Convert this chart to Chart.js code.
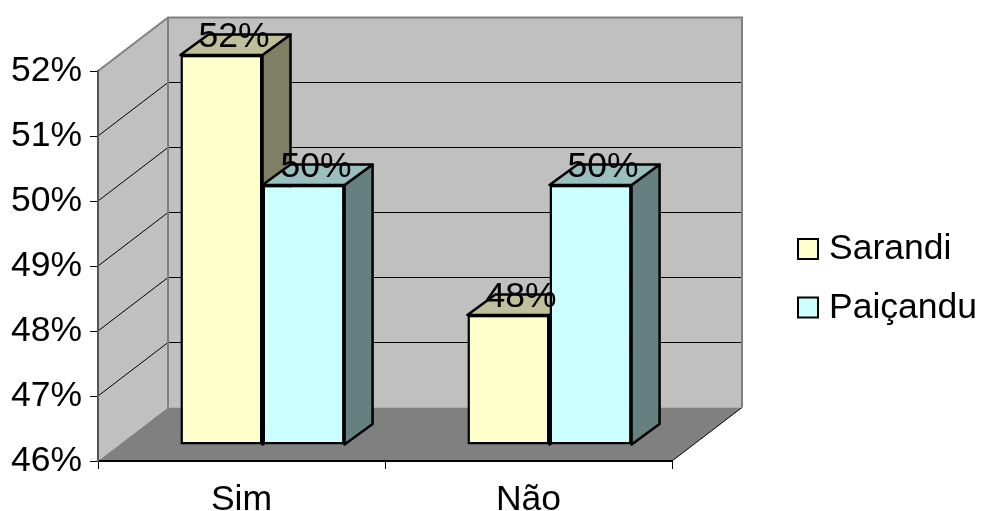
<!DOCTYPE html>
<html>
<head>
<meta charset="utf-8">
<title>Sim / Não</title>
<script src="https://cdn.jsdelivr.net/npm/chart.js@4"></script>
<style>
    body { margin: 0; background: #fff; }
    canvas { display: block; }
</style>
</head>
<body>
<canvas id="chart" width="983" height="511"></canvas>
<script>
const categories = ['Sim', 'Não'];
const sarandi = [52, 48];
const paicandu = [50, 50];
const percentTicks = ['46%', '47%', '48%', '49%', '50%', '51%', '52%'];
const seriesNames = ['Sarandi', 'Paiçandu'];

const FONT = '"Liberation Sans", Arial, sans-serif';
const FONT_SIZE = 35.5;

// 3d look: how far the walls and the bars are pushed back
const wallDepth = { x: 70, y: -53.5 };
const barShift = { x: 21, y: -16 };
const barDepth = { x: 28, y: -20.5 };

const faceColors = [
    { front: '#ffffcc', top: '#bfbf99', side: '#7f7f66' },
    { front: '#ccffff', top: '#99bfbf', side: '#668080' }
];

function poly(ctx, pts) {
    ctx.beginPath();
    pts.forEach((p, i) => i ? ctx.lineTo(p[0], p[1]) : ctx.moveTo(p[0], p[1]));
    ctx.closePath();
}

// side wall, back wall, floor and their grid lines
const walls = {
    id: 'walls',
    beforeDraw(chart) {
        const { ctx, chartArea: a, scales } = chart;
        const dx = wallDepth.x, dy = wallDepth.y;

        ctx.save();
        ctx.fillStyle = '#c0c0c0';
        ctx.fillRect(a.left + dx, a.top + dy, a.right - a.left, a.bottom - a.top);
        poly(ctx, [[a.left, a.top], [a.left + dx, a.top + dy], [a.left + dx, a.bottom + dy], [a.left, a.bottom]]);
        ctx.fill();

        ctx.fillStyle = '#808080';
        poly(ctx, [[a.left, a.bottom], [a.right, a.bottom], [a.right + dx, a.bottom + dy], [a.left + dx, a.bottom + dy]]);
        ctx.fill();

        ctx.strokeStyle = '#000';
        ctx.lineWidth = 1;
        scales.y.ticks.forEach(t => {
            const y = scales.y.getPixelForValue(t.value);
            if (y <= a.top || y >= a.bottom) return;
            ctx.beginPath();
            ctx.moveTo(a.left, y);
            ctx.lineTo(a.left + dx, y + dy);
            ctx.lineTo(a.right + dx, y + dy);
            ctx.stroke();
        });

        ctx.beginPath();
        ctx.moveTo(a.right, a.bottom);
        ctx.lineTo(a.right + dx, a.bottom + dy);
        ctx.stroke();

        ctx.strokeStyle = '#808080';
        ctx.lineWidth = 2;
        ctx.beginPath();
        ctx.moveTo(a.left, a.top);
        ctx.lineTo(a.left + dx, a.top + dy);
        ctx.lineTo(a.right + dx, a.top + dy);
        ctx.lineTo(a.right + dx, a.bottom + dy);
        ctx.moveTo(a.left + dx, a.top + dy);
        ctx.lineTo(a.left + dx, a.bottom + dy);
        ctx.stroke();
        ctx.restore();
    }
};

// top and side faces go first, then the front rects are drawn by chart.js in the shifted ctx
const bars3d = {
    id: 'bars3d',
    beforeDatasetsDraw(chart) {
        const ctx = chart.ctx;
        ctx.save();
        ctx.strokeStyle = '#000';
        ctx.lineWidth = 2.5;
        ctx.lineJoin = 'round';
        chart.data.datasets.forEach((ds, d) => {
            chart.getDatasetMeta(d).data.forEach(bar => {
                const x1 = bar.x + bar.width / 2 + barShift.x;
                const x0 = bar.x - bar.width / 2 + barShift.x;
                const y = bar.y + barShift.y;
                const b = bar.base + barShift.y;

                poly(ctx, [[x1, y], [x1 + barDepth.x, y + barDepth.y], [x1 + barDepth.x, b + barDepth.y], [x1, b]]);
                ctx.fillStyle = faceColors[d].side;
                ctx.fill();
                ctx.stroke();

                poly(ctx, [[x0, y], [x1, y], [x1 + barDepth.x, y + barDepth.y], [x0 + barDepth.x, y + barDepth.y]]);
                ctx.fillStyle = faceColors[d].top;
                ctx.fill();
                ctx.stroke();
            });
        });
        ctx.restore();

        ctx.save();
        ctx.translate(barShift.x, barShift.y);
    },
    afterDatasetsDraw(chart) {
        const ctx = chart.ctx;
        ctx.restore();

        // value labels sit over the top face
        ctx.save();
        ctx.font = FONT_SIZE + 'px ' + FONT;
        ctx.fillStyle = '#000';
        ctx.textAlign = 'center';
        ctx.textBaseline = 'alphabetic';
        chart.data.datasets.forEach((ds, d) => {
            chart.getDatasetMeta(d).data.forEach((bar, i) => {
                ctx.fillText(ds.data[i] + '%', bar.x + barShift.x + 12.5, bar.y + barShift.y - 8);
            });
        });
        ctx.restore();
    }
};

// legend on the right, keys sit closer to the text than the built-in one allows
const sideLegend = {
    id: 'sideLegend',
    afterDraw(chart) {
        const ctx = chart.ctx;
        ctx.save();
        ctx.font = FONT_SIZE + 'px ' + FONT;
        ctx.textBaseline = 'alphabetic';
        seriesNames.forEach((name, i) => {
            const top = 239 + i * 58.5;
            ctx.fillStyle = faceColors[i].front;
            ctx.strokeStyle = '#000';
            ctx.lineWidth = 2;
            ctx.fillRect(798, top, 20, 20);
            ctx.strokeRect(798, top, 20, 20);
            ctx.fillStyle = '#000';
            ctx.fillText(name, 829, top + 20);
        });
        ctx.restore();
    }
};

new Chart(document.querySelector('#chart').getContext('2d'), {
    type: 'bar',
    data: {
        labels: categories,
        datasets: [
            { label: seriesNames[0], data: sarandi, backgroundColor: faceColors[0].front },
            { label: seriesNames[1], data: paicandu, backgroundColor: faceColors[1].front }
        ]
    },
    options: {
        responsive: false,
        animation: false,
        layout: { padding: { top: 71, right: 311, left: 0, bottom: 0 } },
        datasets: {
            bar: {
                base: 46,
                categoryPercentage: 0.572,
                barPercentage: 1,
                borderColor: '#000',
                borderWidth: 2.5,
                borderSkipped: false,
                clip: false
            }
        },
        plugins: {
            legend: { display: false },
            tooltip: { enabled: false }
        },
        scales: {
            x: {
                afterFit: s => { s.height = 50; },
                grid: { drawOnChartArea: false, tickLength: 8, color: '#000' },
                border: { color: '#000', width: 2 },
                ticks: { color: '#000', padding: 10, font: { family: FONT, size: FONT_SIZE } }
            },
            y: {
                min: 46,
                max: 52,
                afterFit: s => { s.width = 98; },
                grid: { drawOnChartArea: false, tickLength: 8, color: '#000' },
                border: { color: '#555', width: 2 },
                ticks: {
                    stepSize: 1,
                    color: '#000',
                    padding: 8,
                    font: { family: FONT, size: FONT_SIZE },
                    callback: (v, i) => percentTicks[i]
                }
            }
        }
    },
    plugins: [walls, bars3d, sideLegend]
});
</script>
</body>
</html>
